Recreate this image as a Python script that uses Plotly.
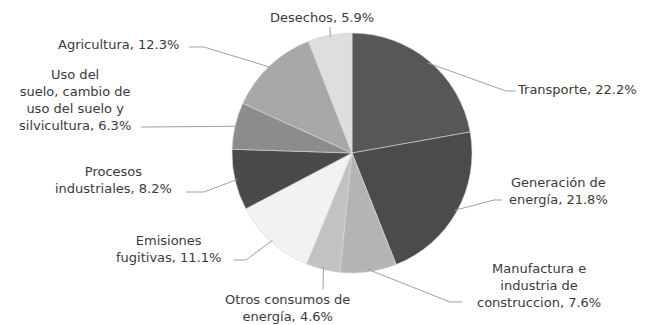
import math
import plotly.graph_objects as go

categories = ["Transporte", "Generación de energía", "Manufactura e industria de construccion",
              "Otros consumos de energía", "Emisiones fugitivas", "Procesos industriales",
              "Uso del suelo, cambio de uso del suelo y silvicultura", "Agricultura", "Desechos"]
values = [22.2, 21.8, 7.6, 4.6, 11.1, 8.2, 6.3, 12.3, 5.9]
label_texts = ["Transporte, 22.2%", "Generación de<br>energía, 21.8%",
               "Manufactura e<br>industria de<br>construccion, 7.6%",
               "Otros consumos de<br>energía, 4.6%", "Emisiones<br>fugitivas, 11.1%",
               "Procesos<br>industriales, 8.2%",
               "Uso del<br>suelo, cambio de<br>uso del suelo y<br>silvicultura, 6.3%",
               "Agricultura, 12.3%", "Desechos, 5.9%"]
colors = ["#575757", "#4b4b4b", "#b4b4b4", "#c2c2c2", "#f2f2f2", "#4a4a4a", "#8c8c8c", "#a8a8a8", "#dedede"]

W, H = 646, 325
CX, CY, R = 352, 153, 120

# label layout: (text center x, text center y, leader start near text, elbow)
label_pos = [
    (577, 89, (516, 91), (506, 91)),
    (558, 191, (502, 200), (494, 200)),
    (539, 285, (462, 302), (450, 302)),
    (287, 308, (323, 289), None),
    (168, 249, (234, 260), (246, 260)),
    (113, 180, (186, 192), (204, 192)),
    (75, 100, (141, 127), None),
    (118, 45, (189, 47), (204, 47)),
    (322, 18, (330, 27), None),
]

def px(x):
    return x / W

def py(y):
    return 1 - y / H

fig = go.Figure(go.Pie(
    labels=categories, values=values, sort=False, direction="clockwise", rotation=0,
    marker=dict(colors=colors, line=dict(color="#d8d8d8", width=0.6)),
    textinfo="none", hoverinfo="label+percent", showlegend=False,
    domain=dict(x=[px(CX - R), px(CX + R)], y=[py(CY + R), py(CY - R)]),
))

total = sum(values)
cum = 0.0
shapes = []
annotations = []
for v, txt, (tx, ty, a, e) in zip(values, label_texts, label_pos):
    mid = (cum + v / 2) / total * 2 * math.pi
    cum += v
    ex = CX + R * 0.98 * math.sin(mid)
    ey = CY - R * 0.98 * math.cos(mid)
    pts = [a] + ([e] if e else []) + [(ex, ey)]
    path = "M " + " L ".join(f"{px(x):.5f},{py(y):.5f}" for x, y in pts)
    shapes.append(dict(type="path", xref="paper", yref="paper", path=path,
                       line=dict(color="#a0a0a0", width=1)))
    annotations.append(dict(x=px(tx), y=py(ty), xref="paper", yref="paper", text=txt,
                            xanchor="center", yanchor="middle",
                            showarrow=False, align="center",
                            font=dict(family="DejaVu Sans", size=13, color="#3a3a3a")))

fig.update_layout(width=W, height=H, margin=dict(l=0, r=0, t=0, b=0),
                  paper_bgcolor="white", plot_bgcolor="white",
                  shapes=shapes, annotations=annotations)
fig.write_html("out.html", config={"displayModeBar": False},
               post_script="document.body.style.margin='0';")
